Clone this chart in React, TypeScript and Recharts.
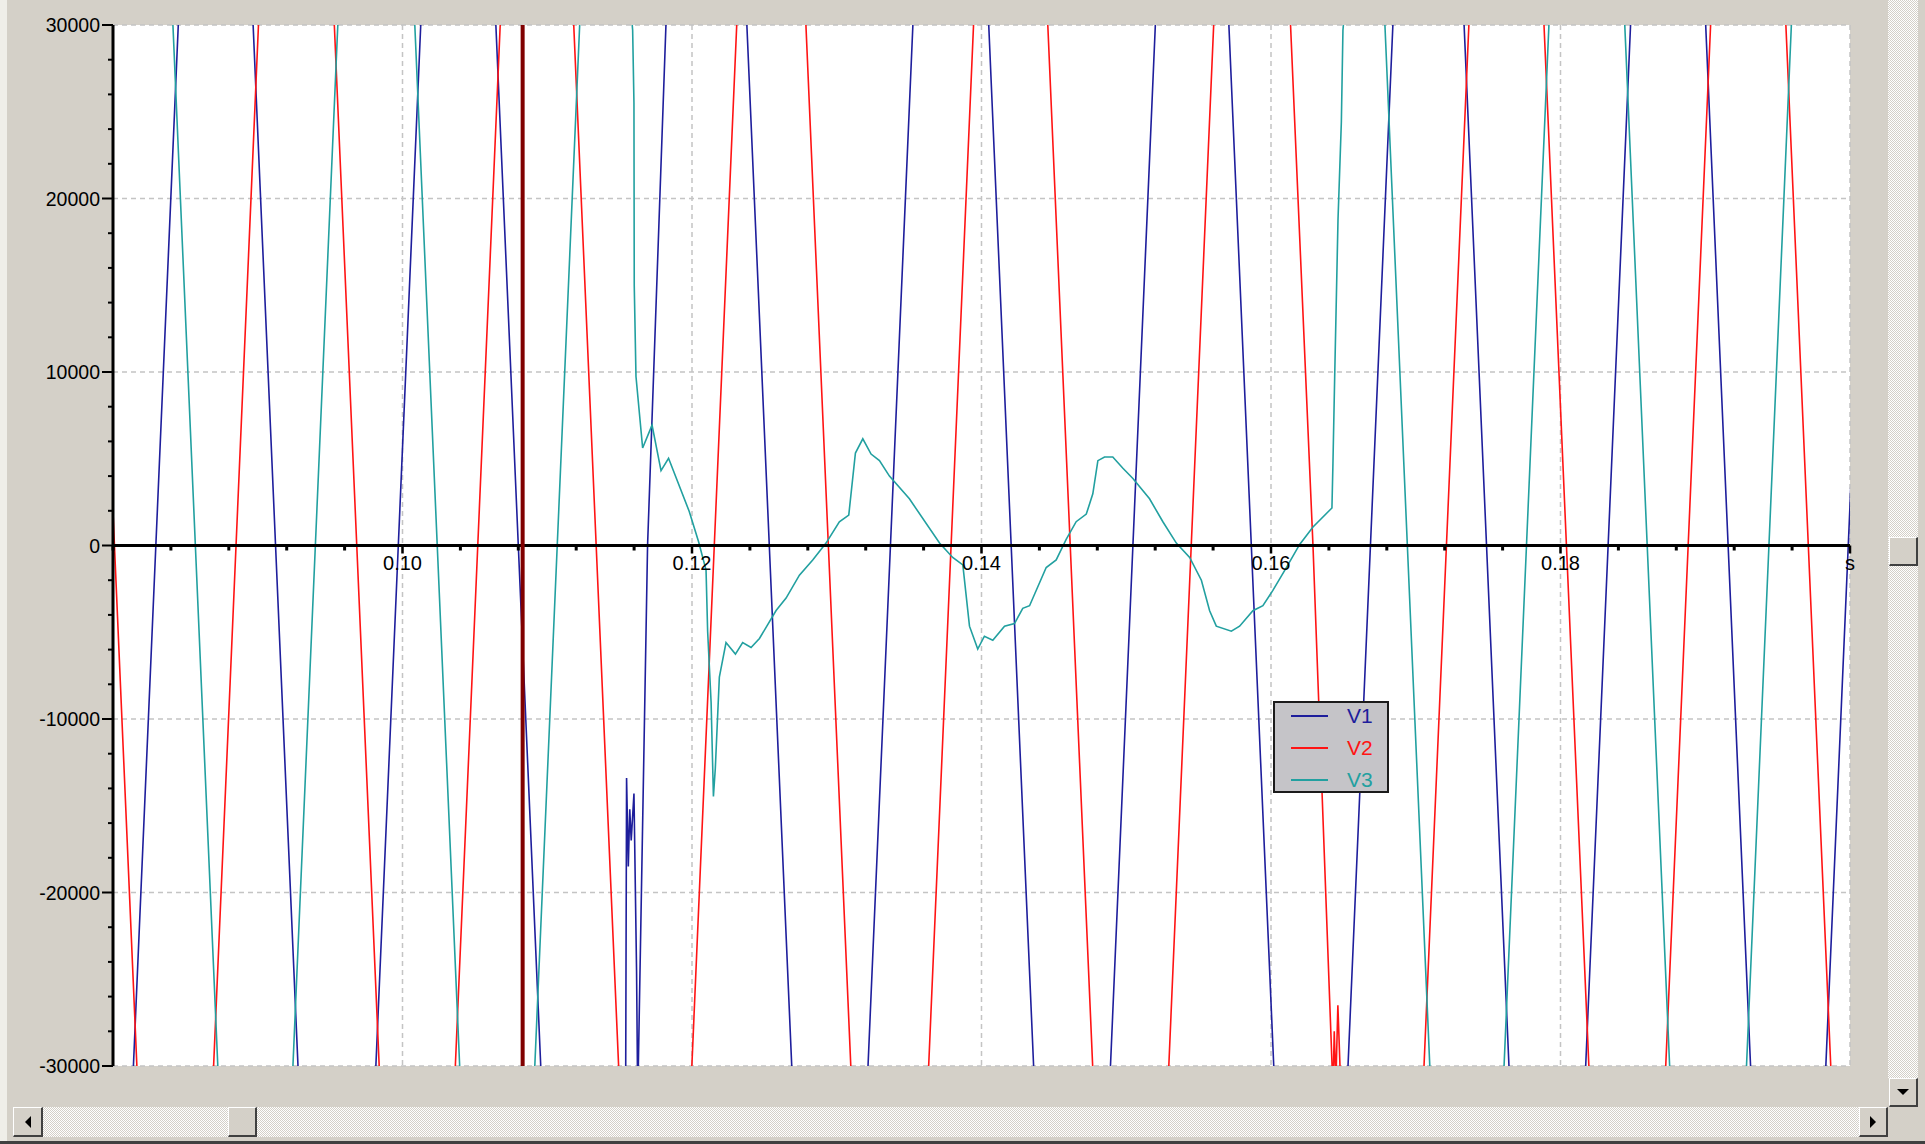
import { LineChart, Line, XAxis, YAxis, CartesianGrid, ReferenceLine, Legend } from 'recharts';

// samples: [time in ms, value]
// points at +-52000 are the (off-scale) peaks, only there so the clipped edges run out of the frame
const V1_POINTS: [number, number][] = [
  [78.8, -52000],
  [81.41, -30000], [82.96, 0], [84.51, 30000],
  [87.1, 52000],
  [89.68, 30000], [91.23, 0], [92.78, -30000],
  [95.5, -52000],
  [98.16, -30000], [99.71, 0], [101.26, 30000],
  [103.85, 52000],
  [106.45, 30000], [108.0, 0], [109.55, -30000],
  [112.5, -52000],
  [115.4, -36000], [115.48, -13400], [115.6, -18500], [115.7, -15200], [115.8, -17000],
  [115.99, -14300], [116.17, -24500], [116.25, -32000],
  [116.93, 0], [118.2, 30000],
  [121.1, 52000],
  [123.79, 30000], [125.34, 0], [126.89, -30000],
  [129.5, -52000],
  [132.16, -30000], [133.71, 0], [135.26, 30000],
  [137.9, 52000],
  [140.5, 30000], [142.05, 0], [143.6, -30000],
  [146.25, -52000],
  [148.91, -30000], [150.46, 0], [152.01, 30000],
  [154.55, 52000],
  [157.09, 30000], [158.64, 0], [160.19, -30000],
  [162.75, -52000],
  [165.32, -30000], [166.87, 0], [168.42, 30000],
  [170.9, 52000],
  [173.34, 30000], [174.89, 0], [176.44, -30000],
  [179.1, -52000],
  [181.74, -30000], [183.29, 0], [184.84, 30000],
  [187.45, 52000],
  [190.03, 30000], [191.58, 0], [193.13, -30000],
  [195.75, -52000],
  [198.33, -30000], [199.88, 0], [201.43, 30000],
];

const V2_POINTS: [number, number][] = [
  [75.9, 52000],
  [78.55, 30000], [80.1, 0], [81.65, -30000],
  [84.3, -52000],
  [86.95, -30000], [88.5, 0], [90.05, 30000],
  [92.7, 52000],
  [95.29, 30000], [96.84, 0], [98.39, -30000],
  [101.0, -52000],
  [103.65, -30000], [105.2, 0], [106.75, 30000],
  [109.3, 52000],
  [111.83, 30000], [113.38, 0], [114.93, -30000],
  [117.45, -52000],
  [119.99, -30000], [121.54, 0], [123.09, 30000],
  [125.5, 52000],
  [127.87, 30000], [129.42, 0], [130.97, -30000],
  [133.65, -52000],
  [136.35, -30000], [137.9, 0], [139.45, 30000],
  [142.0, 52000],
  [144.58, 30000], [146.13, 0], [147.68, -30000],
  [150.3, -52000],
  [152.94, -30000], [154.49, 0], [156.04, 30000],
  [158.7, 52000],
  [161.35, 30000], [162.9, 0], [164.22, -30000],
  [164.28, -31500], [164.37, -28000], [164.48, -31000], [164.62, -26500], [164.85, -32000],
  [167.5, -52000],
  [170.57, -30000], [172.12, 0], [173.67, 30000],
  [176.25, 52000],
  [178.86, 30000], [180.41, 0], [181.96, -30000],
  [184.6, -52000],
  [187.27, -30000], [188.82, 0], [190.37, 30000],
  [193.0, 52000],
  [195.57, 30000], [197.12, 0], [198.67, -30000],
  [201.3, -52000],
];

const V3_POINTS: [number, number][] = [
  [81.6, 52000],
  [84.14, 30000], [85.69, 0], [87.24, -30000],
  [89.8, -52000],
  [92.43, -30000], [93.98, 0], [95.53, 30000],
  [98.2, 52000],
  [100.85, 30000], [102.4, 0], [103.95, -30000],
  [106.55, -52000],
  [109.14, -30000], [110.69, 0], [112.24, 30000],
  [114.1, 48000],
  // collapsed phase
  [115.9, 29700], [115.99, 25500], [116.01, 15000], [116.13, 9740], [116.59, 5620],
  [117.24, 6940], [117.86, 4320], [118.38, 5030], [119.81, 1960], [120.46, 200],
  [120.97, -1420], [121.08, -4940], [121.32, -9050], [121.48, -14470], [121.61, -12850],
  [121.89, -7580], [122.35, -5590], [123.0, -6260], [123.5, -5590], [124.08, -5880],
  [124.66, -5360], [125.81, -3750], [126.5, -3030], [127.42, -1710], [128.34, -830],
  [129.26, 140], [130.18, 1370], [130.83, 1750], [131.29, 5330], [131.8, 6150],
  [132.37, 5270], [132.95, 4890], [133.64, 4000], [135.02, 2690], [137.1, 140],
  [138.01, -690], [138.71, -1120], [139.17, -4650], [139.74, -5970], [140.2, -5230],
  [140.78, -5460], [141.59, -4650], [142.28, -4500], [142.85, -3620], [143.32, -3470],
  [144.47, -1270], [145.16, -830], [145.85, 350], [146.54, 1370], [147.24, 1810],
  [147.69, 2980], [148.04, 4890], [148.5, 5100], [149.07, 5100], [149.77, 4450],
  [150.46, 3860], [151.61, 2690], [152.53, 1370], [153.46, 140], [154.38, -690],
  [155.19, -2000], [155.76, -3760], [156.22, -4650], [157.26, -4940], [157.83, -4650],
  [158.75, -3760], [159.44, -3470], [160.13, -2590], [161.06, -1270], [161.98, 60],
  [162.9, 1070], [164.21, 2160], [164.28, 4740], [164.4, 9740], [164.63, 18820],
  [164.86, 24400], [164.97, 29700],
  [167.2, 52000],
  [167.87, 30000], [169.42, 0], [170.97, -30000],
  [173.5, -52000],
  [176.1, -30000], [177.65, 0], [179.2, 30000],
  [181.8, 52000],
  [184.44, 30000], [185.99, 0], [187.54, -30000],
  [190.2, -52000],
  [192.85, -30000], [194.4, 0], [195.95, 30000],
  [198.6, 52000],
  [201.2, 30000],
];

const X_TICKS = [
  0.08, 0.084, 0.088, 0.092, 0.096, 0.1, 0.104, 0.108, 0.112, 0.116, 0.12,
  0.124, 0.128, 0.132, 0.136, 0.14, 0.144, 0.148, 0.152, 0.156, 0.16,
  0.164, 0.168, 0.172, 0.176, 0.18, 0.184, 0.188, 0.192, 0.196, 0.2,
];
const X_MAJOR = [0.1, 0.12, 0.14, 0.16, 0.18, 0.2];
const X_LABELS = ['0.10', '0.12', '0.14', '0.16', '0.18', 's'];

const Y_TICKS = [
  -30000, -28000, -26000, -24000, -22000, -20000, -18000, -16000, -14000, -12000, -10000,
  -8000, -6000, -4000, -2000, 0, 2000, 4000, 6000, 8000, 10000,
  12000, 14000, 16000, 18000, 20000, 22000, 24000, 26000, 28000, 30000,
];
const Y_MAJOR = [-30000, -20000, -10000, 0, 10000, 20000, 30000];
const Y_LABELS = ['-30000', '-20000', '-10000', '0', '10000', '20000', '30000'];
const GRID_Y = [-30000, -20000, -10000, 10000, 20000, 30000];

const CURSOR_T = 0.1083;

const SERIES = [
  { name: 'V1', color: '#1e1e9c', points: V1_POINTS },
  { name: 'V2', color: '#ff1414', points: V2_POINTS },
  { name: 'V3', color: '#22a0a0', points: V3_POINTS },
];

const W = 1925;
const H = 1144;
const PLOT = { left: 113, top: 25, right: 1850, bottom: 1066 };
const ZERO_Y = (PLOT.top + PLOT.bottom) / 2;
const FONT = '"Liberation Sans", Arial, sans-serif';
const CHECKER = 'repeating-conic-gradient(#ffffff 0% 25%, #d4d0c8 0% 50%) 0 0 / 2px 2px';

function XTick(props: any) {
  const { x, payload } = props;
  const i = X_MAJOR.findIndex((m) => Math.abs(m - payload.value) < 1e-9);
  if (i < 0) {
    return <line x1={x} x2={x} y1={ZERO_Y} y2={ZERO_Y + 5} stroke="#000" strokeWidth={3} />;
  }
  return (
    <g>
      <line x1={x} x2={x} y1={ZERO_Y} y2={ZERO_Y + 8} stroke="#000" strokeWidth={2.5} />
      <text x={x} y={ZERO_Y + 24} textAnchor="middle" fontSize={20} fontFamily={FONT} fill="#000">
        {X_LABELS[i]}
      </text>
    </g>
  );
}

function YTick(props: any) {
  const { y, payload } = props;
  const i = Y_MAJOR.indexOf(payload.value);
  if (i < 0) {
    return <line x1={PLOT.left - 5} x2={PLOT.left} y1={y} y2={y} stroke="#000" strokeWidth={2} />;
  }
  return (
    <g>
      <line x1={PLOT.left - 11} x2={PLOT.left} y1={y} y2={y} stroke="#000" strokeWidth={2} />
      <text x={PLOT.left - 13} y={y} textAnchor="end" dominantBaseline="central" fontSize={19.5} fontFamily={FONT} fill="#000">
        {Y_LABELS[i]}
      </text>
    </g>
  );
}

function LegendBox(props: any) {
  const items = props.payload || [];
  return (
    <div style={{ width: 116, height: 92, boxSizing: 'border-box', border: '2px solid #1b1b1b', background: '#c5c4c8', position: 'relative', fontFamily: FONT }}>
      {items.map((p: any, i: number) => (
        <div key={p.value} style={{ position: 'absolute', left: 16, top: 1 + i * 32, height: 24, display: 'flex', alignItems: 'center' }}>
          <span style={{ display: 'block', width: 37, height: 0, borderTop: `2px solid ${p.color}` }} />
          <span style={{ marginLeft: 19, color: p.color, fontSize: 21, lineHeight: '24px' }}>{p.value}</span>
        </div>
      ))}
    </div>
  );
}

const button: React.CSSProperties = {
  position: 'absolute',
  boxSizing: 'border-box',
  background: '#d4d0c8',
  borderTop: '1px solid #ffffff',
  borderLeft: '1px solid #ffffff',
  borderRight: '2px solid #404040',
  borderBottom: '2px solid #404040',
  display: 'flex',
  alignItems: 'center',
  justifyContent: 'center',
};

export default function App() {
  const rows = SERIES.map((s) => s.points.map(([ms, v]) => ({ t: ms / 1000, v })));

  return (
    <div style={{ position: 'absolute', left: 0, top: 0, width: W, height: H, background: '#d4d0c8', overflow: 'hidden' }}>
      <div style={{ position: 'absolute', left: 0, top: 0, width: 7, height: H, background: '#efeee9' }} />
      <div style={{ position: 'absolute', left: PLOT.left, top: PLOT.top, width: PLOT.right - PLOT.left, height: PLOT.bottom - PLOT.top, background: '#ffffff' }} />

      <div style={{ position: 'absolute', left: 0, top: 0 }}>
        <LineChart width={W} height={H} margin={{ top: PLOT.top, right: W - PLOT.right, bottom: H - PLOT.bottom - 30, left: 0 }}>
          <CartesianGrid
            horizontalValues={GRID_Y}
            verticalValues={X_MAJOR}
            stroke="#c4c4c4"
            strokeWidth={1.5}
            strokeDasharray="5 4"
          />
          <XAxis
            type="number"
            dataKey="t"
            domain={[0.08, 0.2]}
            allowDataOverflow
            ticks={X_TICKS}
            interval={0}
            height={30}
            axisLine={false}
            tickLine={false}
            tick={<XTick />}
          />
          <YAxis
            type="number"
            domain={[-30000, 30000]}
            allowDataOverflow
            ticks={Y_TICKS}
            interval={0}
            width={PLOT.left}
            axisLine={{ stroke: '#000', strokeWidth: 3 }}
            tickLine={false}
            tick={<YTick />}
          />
          {SERIES.map((s, i) => (
            <Line
              key={s.name}
              name={s.name}
              data={rows[i]}
              dataKey="v"
              type="linear"
              stroke={s.color}
              strokeWidth={1.6}
              dot={false}
              activeDot={false}
              isAnimationActive={false}
            />
          ))}
          <ReferenceLine y={0} stroke="#000" strokeWidth={3} />
          <ReferenceLine x={CURSOR_T} stroke="#800000" strokeWidth={4} />
          <Legend
            layout="vertical"
            align="center"
            verticalAlign="middle"
            content={<LegendBox />}
            wrapperStyle={{ left: 1273, top: 701, width: 116, height: 92 }}
          />
        </LineChart>
      </div>

      {/* window scrollbars */}
      <div style={{ position: 'absolute', left: 1888, top: 0, width: 30, height: 1078, background: CHECKER }} />
      <div style={{ ...button, left: 1889, top: 537, width: 29, height: 29 }} />
      <div style={{ ...button, left: 1889, top: 1078, width: 29, height: 29 }}>
        <div style={{ width: 0, height: 0, borderLeft: '6px solid transparent', borderRight: '6px solid transparent', borderTop: '6px solid #000' }} />
      </div>
      <div style={{ position: 'absolute', left: 13, top: 1107, width: 1846, height: 30, background: CHECKER }} />
      <div style={{ ...button, left: 13, top: 1107, width: 30, height: 30 }}>
        <div style={{ width: 0, height: 0, borderTop: '6px solid transparent', borderBottom: '6px solid transparent', borderRight: '6px solid #000' }} />
      </div>
      <div style={{ ...button, left: 228, top: 1107, width: 29, height: 30 }} />
      <div style={{ ...button, left: 1859, top: 1107, width: 29, height: 30 }}>
        <div style={{ width: 0, height: 0, borderTop: '6px solid transparent', borderBottom: '6px solid transparent', borderLeft: '6px solid #000' }} />
      </div>
      <div style={{ position: 'absolute', left: 0, top: 1141, width: W, height: 3, background: '#404040' }} />
    </div>
  );
}
